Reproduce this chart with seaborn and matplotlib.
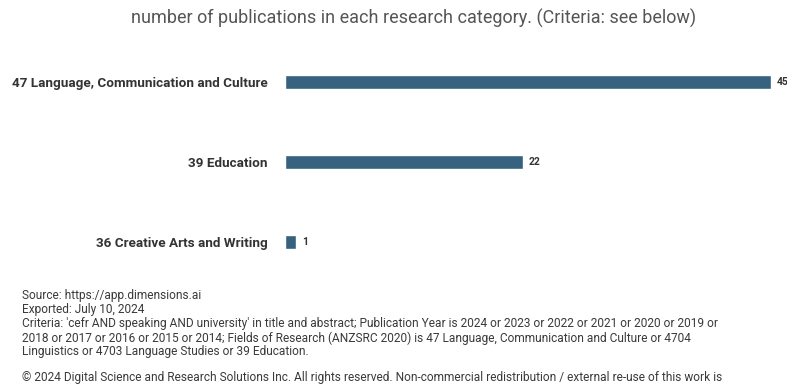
import matplotlib.pyplot as plt
import seaborn as sns
import pandas as pd

# data
categories = ['47 Language, Communication and Culture', '39 Education', '36 Creative Arts and Writing']
publications = [45, 22, 1]

title = 'number of publications in each research category. (Criteria: see below)'
footer_lines = [
    'Source: https://app.dimensions.ai',
    'Exported: July 10, 2024',
    "Criteria: 'cefr AND speaking AND university' in title and abstract; Publication Year is 2024 or 2023 or 2022 or 2021 or 2020 or 2019 or",
    '2018 or 2017 or 2016 or 2015 or 2014; Fields of Research (ANZSRC 2020) is 47 Language, Communication and Culture or 4704',
    'Linguistics or 4703 Language Studies or 39 Education.',
]
copyright_line = ('\u00a9 2024 Digital Science and Research Solutions Inc. All rights reserved. '
                  'Non-commercial redistribution / external re-use of this work is')

df = pd.DataFrame({'category': categories, 'publications': publications})

sns.set_theme(style='white')
plt.rcParams['font.family'] = ['Roboto', 'DejaVu Sans']

W, H = 787, 392
fig = plt.figure(figsize=(W / 100, H / 100), dpi=100)
# axes placed so bar centres fall at ~83, 163, 242 px
ax = fig.add_axes([285 / W, 1 - 282 / H, 1 - 285 / W, 240 / H])

sns.barplot(data=df, x='publications', y='category', orient='h',
            color='#36627f', width=0.17, saturation=1, ax=ax)

ax.set_xlim(0, 46.5)
ax.set_xlabel('')
ax.set_ylabel('')
ax.set_xticks([])
sns.despine(ax=ax, left=True, bottom=True)
ax.tick_params(axis='y', length=0, pad=12.5)
for lab in ax.get_yticklabels():
    lab.set_fontweight('bold')
    lab.set_fontsize(9.7)
    lab.set_color('#333333')

# value labels next to each bar (the top one runs off the edge, as in the reference)
for i, v in enumerate(publications):
    ax.annotate(str(v), (v, i), xytext=(4.3, 0), textcoords='offset points',
                va='center', ha='left', fontsize=7.5, fontweight='bold', color='#333333',
                annotation_clip=False)

fig.text(131 / W, 1 - 18 / H, title, ha='left', va='center',
         fontsize=13, color='#555555')

y = 296
for line in footer_lines:
    fig.text(22 / W, 1 - y / H, line, ha='left', va='center', fontsize=8.6, color='#3a3a3a')
    y += 14
fig.text(22 / W, 1 - 378 / H, copyright_line, ha='left', va='center', fontsize=8.6, color='#3a3a3a')

fig.savefig('out.png', dpi=100)
